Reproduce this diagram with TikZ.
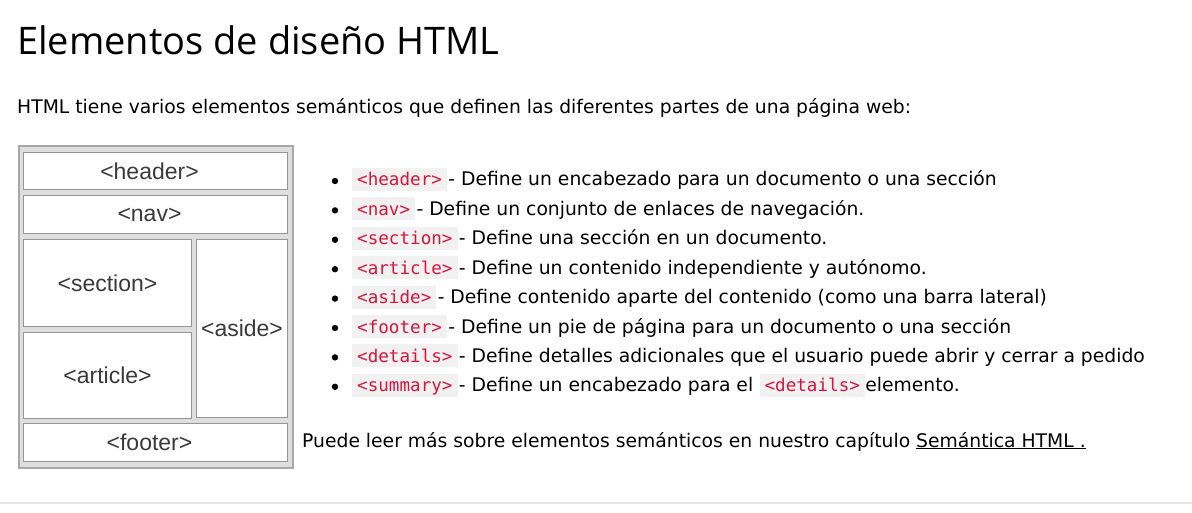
\documentclass[tikz,border=0pt]{standalone}
\usepackage{fontspec}
\setmainfont{DejaVu Sans}
\newfontfamily\titlefont{Open Sans}
\newfontfamily\boxfont{Liberation Sans}
\newfontfamily\codefont{DejaVu Sans Mono}
\usepackage{xcolor}
\usetikzlibrary{positioning}

\definecolor{codered}{HTML}{DC143C}
\definecolor{codebg}{HTML}{F1F1F1}
\definecolor{framegray}{HTML}{A8A8A8}
\definecolor{framefill}{HTML}{DEDEDE}
\definecolor{boxline}{HTML}{959595}
\definecolor{boxtext}{HTML}{3A3A3A}
\definecolor{rulegray}{HTML}{E7E7E7}

\tikzset{
  part/.style={draw=boxline,fill=white,line width=1.2pt,inner sep=0pt,text=boxtext,
    font=\boxfont\fontsize{23}{27}\selectfont},
  wide/.style={execute at begin node=\hspace*{-12pt}},
  txt/.style={anchor=base west,inner sep=0pt,font=\fontsize{18.75}{22}\selectfont},
  tag/.style={anchor=base west,fill=codebg,text=codered,inner xsep=5pt,
    inner ysep=0pt,text height=18pt,text depth=5pt,
    font=\codefont\fontsize{17.6}{20}\selectfont},
}

\begin{document}
\begin{tikzpicture}[x=1pt,y=-1pt]
  \useasboundingbox (0,0) rectangle (1192,513);
  \node[anchor=base west,inner sep=0pt,font=\titlefont\fontsize{38}{44}\selectfont]
    (title) at (17,55) {Elementos de diseño HTML};
  \node[txt] (intro) at (17,114)
    {HTML tiene varios elementos semánticos que definen las diferentes partes de una página web:};
  % layout sketch
  \filldraw[fill=framefill,draw=framegray,line width=1.5pt] (19,146) rectangle (293,468);
  \node[part,wide,minimum width=264pt,minimum height=37pt] (header) at (155.5,171) {<header>};
  \node[part,wide,minimum width=264pt,minimum height=38pt] (nav) at (155.5,214.5) {<nav>};
  \node[part,minimum width=168pt,minimum height=87pt] (section) at (107.5,283) {<section>};
  \node[part,minimum width=168pt,minimum height=86pt] (article) at (107.5,375.5) {<article>};
  \node[part,minimum width=91pt,minimum height=178pt] (aside) at (242,328.5) {<aside>};
  \node[part,wide,minimum width=264pt,minimum height=38pt] (footer) at (155.5,442.5) {<footer>};
  % list
  \foreach \tg/\desc [count=\i from 0] in {
      header/Define un encabezado para un documento o una sección,
      nav/Define un conjunto de enlaces de navegación.,
      section/Define una sección en un documento.,
      article/Define un contenido independiente y autónomo.,
      aside/Define contenido aparte del contenido (como una barra lateral),
      footer/Define un pie de página para un documento o una sección,
      details/Define detalles adicionales que el usuario puede abrir y cerrar a pedido}{
    \fill (335,{181+29.4*\i}) circle (3.2pt);
    \node[tag] (tag\i) at (352,{186+29.4*\i}) {<\tg>};
    \node[txt,xshift=1pt] (desc\i) at (tag\i.base east) {- \desc};
  }
  \fill (335,{181+29.4*7}) circle (3.2pt);
  \node[tag] (tag7) at (352,{186+29.4*7}) {<summary>};
  \node[txt,xshift=1pt] (desc7) at (tag7.base east) {- Define un encabezado para el};
  \node[tag,xshift=6pt] (tag8) at (desc7.base east) {<details>};
  \node[txt] (desc8) at (tag8.base east) {elemento.};
  \node[txt] (more) at (302,447)
    {Puede leer más sobre elementos semánticos en nuestro capítulo \underline{Semántica HTML .}};
  \draw[rulegray,line width=1.5pt] (0,503) -- (1192,503);
\end{tikzpicture}
\end{document}
